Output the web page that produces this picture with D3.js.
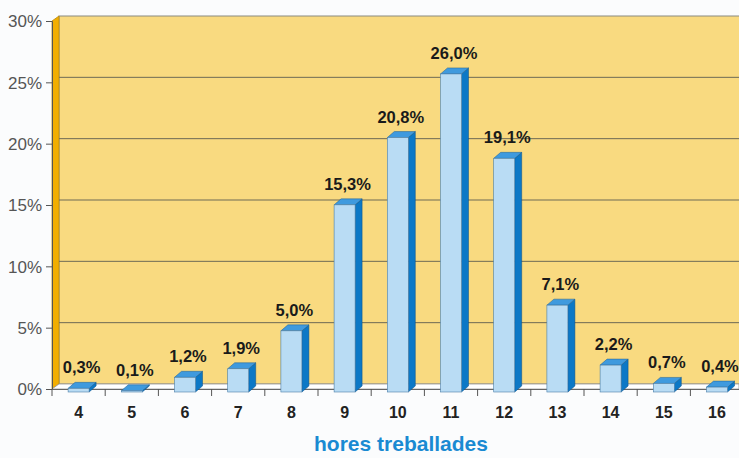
<!DOCTYPE html>
<html lang="ca">
<head>
  <meta charset="UTF-8">
  <title>Hores treballades</title>
  <script src="https://cdn.jsdelivr.net/npm/d3@7/dist/d3.min.js"></script>
  <style>
    body { margin: 0; background: #fbfcfd; }
    .ylab { font-family: "Liberation Sans", Arial, sans-serif; font-size: 17px; fill: #555; }
    .xlab { font-family: "Liberation Sans", Arial, sans-serif; font-size: 16px; font-weight: bold; fill: #222; }
    .val { font-family: "Liberation Sans", Arial, sans-serif; font-size: 16.5px; font-weight: bold; fill: #1a1a1a; }
  </style>
</head>
<body>
<script>
var hours = ["4", "5", "6", "7", "8", "9", "10", "11", "12", "13", "14", "15", "16"];
var shares = [0.3, 0.1, 1.2, 1.9, 5.0, 15.3, 20.8, 26.0, 19.1, 7.1, 2.2, 0.7, 0.4];
var yTicks = [0, 5, 10, 15, 20, 25, 30];

var w = 739, h = 458;
var dx = 7, dy = -5; // depth offset of the back wall

var svg = d3.select("body").append("svg")
  .attr("width", w).attr("height", h);

var x = d3.scaleBand().domain(hours).range([52, 743.6]).paddingInner(0);
var yFront = d3.scaleLinear().domain([0, 30]).range([389, 21]);
var yBar = d3.scaleLinear().domain([0, 30]).range([392, 25]);

var fmt = function(v) { return d3.format(".1f")(v).replace(".", ",") + "%"; };

// back wall
svg.append("rect")
  .attr("x", 52 + dx).attr("y", yFront(30) + dy)
  .attr("width", w).attr("height", yFront(0) - yFront(30))
  .attr("fill", "#f9da80").attr("stroke", "#8a8a80").attr("stroke-width", 1);

// side wall
svg.append("path")
  .attr("d", `M52,${yFront(30)} L${52 + dx},${yFront(30) + dy} L${52 + dx},${yFront(0) + dy} L52,${yFront(0)} Z`)
  .attr("fill", "#f2ae00").attr("stroke", "#b88a10").attr("stroke-width", 0.8);

// gridlines on back wall
svg.selectAll(".grid").data(yTicks.slice(1, -1)).enter().append("line")
  .attr("x1", 52 + dx).attr("x2", w)
  .attr("y1", d => yFront(d) + dy).attr("y2", d => yFront(d) + dy)
  .attr("stroke", "#6e6a55").attr("stroke-width", 1);

// floor
svg.append("path")
  .attr("d", `M52,${yFront(0)} L${52 + dx},${yFront(0) + dy} L${w},${yFront(0) + dy} L${w},${yFront(0)} Z`)
  .attr("fill", "#ffffff").attr("stroke", "#999").attr("stroke-width", 0.8);

// y axis
var yAxis = d3.axisLeft(yFront).tickValues(yTicks).tickSize(6).tickFormat(d => d + "%");
var gy = svg.append("g").attr("transform", "translate(52,0)").call(yAxis);
gy.select(".domain").attr("stroke", "#555");
gy.selectAll(".tick line").attr("stroke", "#555");
gy.selectAll(".tick text").attr("class", "ylab").attr("x", -10).attr("dy", "0.35em");

// x axis
var xAxis = d3.axisBottom(x).tickSize(0).tickFormat(d => d);
var gx = svg.append("g").attr("transform", `translate(0,${yFront(0)})`).call(xAxis);
gx.select(".domain").attr("stroke", "#666");
gx.selectAll(".tick text").attr("class", "xlab").attr("dy", "1.6em");
svg.selectAll(".xt").data(hours).enter().append("line")
  .attr("x1", d => x(d)).attr("x2", d => x(d))
  .attr("y1", yFront(0)).attr("y2", yFront(0) + 7)
  .attr("stroke", "#555");

// bars
var bw = 21;
var bars = svg.selectAll(".bar").data(hours.map((k, i) => ({k: k, v: shares[i]})))
  .enter().append("g");

bars.append("path") // side
  .attr("d", d => {
    var x0 = x(d.k) + x.bandwidth() / 2 - bw / 2 + bw, yt = yBar(d.v), yb = yBar(0);
    return `M${x0},${yt} L${x0 + dx},${yt - 6} L${x0 + dx},${yb - 6} L${x0},${yb} Z`;
  })
  .attr("fill", "#0c78c6").attr("stroke", "#0a4f86").attr("stroke-width", 0.5);

bars.append("path") // top
  .attr("d", d => {
    var x0 = x(d.k) + x.bandwidth() / 2 - bw / 2, yt = yBar(d.v);
    return `M${x0},${yt} L${x0 + dx},${yt - 6} L${x0 + bw + dx},${yt - 6} L${x0 + bw},${yt} Z`;
  })
  .attr("fill", "#3f9ade").attr("stroke", "#1e5e90").attr("stroke-width", 0.5);

bars.append("rect") // front
  .attr("x", d => x(d.k) + x.bandwidth() / 2 - bw / 2)
  .attr("y", d => yBar(d.v))
  .attr("width", bw)
  .attr("height", d => yBar(0) - yBar(d.v))
  .attr("fill", "#b9dcf4").attr("stroke", "#4a7ea8").attr("stroke-width", 0.6);

bars.append("text")
  .attr("class", "val")
  .attr("x", d => x(d.k) + x.bandwidth() / 2 + 3)
  .attr("y", d => yBar(d.v) - 15)
  .attr("text-anchor", "middle")
  .text(d => fmt(d.v));

// axis title
svg.append("text")
  .attr("x", 401).attr("y", 451)
  .attr("text-anchor", "middle")
  .attr("font-family", "Liberation Sans, Arial, sans-serif")
  .attr("font-size", "21px").attr("font-weight", "bold")
  .attr("fill", "#1a8ad2")
  .text("hores treballades");
</script>
</body>
</html>
